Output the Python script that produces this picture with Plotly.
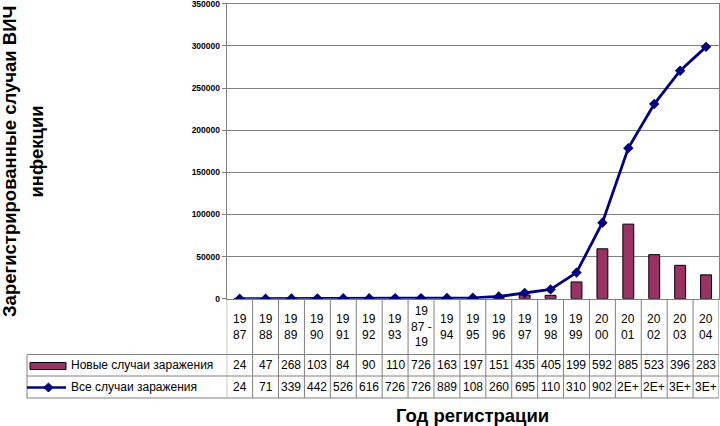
import plotly.graph_objects as go

W, H = 720, 426

categories = ["1987", "1988", "1989", "1990", "1991", "1992", "1993", "1987-1993",
              "1994", "1995", "1996", "1997", "1998", "1999", "2000", "2001",
              "2002", "2003", "2004"]
tick_labels = ["19<br>87", "19<br>88", "19<br>89", "19<br>90", "19<br>91", "19<br>92",
               "19<br>93", "19<br>87 -<br>19", "19<br>94", "19<br>95", "19<br>96",
               "19<br>97", "19<br>98", "19<br>99", "20<br>00", "20<br>01", "20<br>02",
               "20<br>03", "20<br>04"]
new_cases = [24, 47, 268, 103, 84, 90, 110, 726, 163, 197, 1517, 4355, 4050,
             19900, 59200, 88500, 52300, 39600, 28300]
all_cases = [24, 71, 339, 442, 526, 616, 726, 726, 889, 1086, 2603, 6958, 11008,
             31000, 90200, 178700, 231000, 270600, 298900]
y_ticks = [0, 50000, 100000, 150000, 200000, 250000, 300000, 350000]
series_names = ["Новые случаи заражения", "Все случаи заражения"]
y_title_lines = ["Зарегистрированные случаи ВИЧ", "инфекции"]
x_title = "Год регистрации"

BAR_COLOR = "#993366"
LINE_COLOR = "#000080"
GRID = "#808080"
FONT = "Arial, Liberation Sans, sans-serif"


def px(x):
    return x / W


def py(y):
    return 1 - y / H


def cell_text(v):
    # Excel data-table cells are too narrow: text is clipped to 3 characters
    s = str(v) if v < 100000 else "%.0E" % v
    return s[:3]


X0, X1 = 226.7, 719.0
Y0, Y1 = 298.7, 3.8

fig = go.Figure()
fig.add_trace(go.Bar(
    x=categories, y=new_cases, name=series_names[0],
    marker=dict(color=BAR_COLOR, line=dict(color="black", width=1)),
))
fig.add_trace(go.Scatter(
    x=categories, y=all_cases, name=series_names[1], mode="lines+markers",
    line=dict(color=LINE_COLOR, width=2.8),
    marker=dict(symbol="diamond", size=8, color=LINE_COLOR),
))

shapes = []
annotations = []
n = len(categories)

# table geometry
T_TOP, T_MID, T_BOT = 354.5, 376.0, 398.0
T_LEFT = 27.0
for i in range(n + 1):
    shapes.append(dict(type="line", xref="x", yref="paper", x0=i - 0.5, x1=i - 0.5,
                       y0=py(Y0), y1=py(T_BOT), line=dict(color=GRID, width=1)))
for yy in (T_TOP, T_MID, T_BOT):
    shapes.append(dict(type="line", xref="paper", yref="paper", x0=px(T_LEFT), x1=px(X1),
                       y0=py(yy), y1=py(yy), line=dict(color=GRID, width=1)))
shapes.append(dict(type="line", xref="paper", yref="paper", x0=px(T_LEFT), x1=px(T_LEFT),
                   y0=py(T_TOP), y1=py(T_BOT), line=dict(color=GRID, width=1)))

# legend keys inside table
shapes.append(dict(type="rect", xref="paper", yref="paper", x0=px(30), x1=px(66),
                   y0=py(362.5), y1=py(369.5), fillcolor=BAR_COLOR,
                   line=dict(color="black", width=1)))
ky = 387.5
shapes.append(dict(type="line", xref="paper", yref="paper", x0=px(27), x1=px(66),
                   y0=py(ky), y1=py(ky), line=dict(color=LINE_COLOR, width=2.5)))
d = 4.5
cx = 48.5
path = "M %f %f L %f %f L %f %f L %f %f Z" % (px(cx - d), py(ky), px(cx), py(ky - d),
                                              px(cx + d), py(ky), px(cx), py(ky + d))
shapes.append(dict(type="path", xref="paper", yref="paper", path=path,
                   fillcolor=LINE_COLOR, line=dict(color=LINE_COLOR, width=1)))

annotations.append(dict(xref="paper", yref="paper", x=px(69), y=py((T_TOP + T_MID) / 2),
                        text=series_names[0], showarrow=False, xanchor="left",
                        yanchor="middle", font=dict(family=FONT, size=12, color="black")))
annotations.append(dict(xref="paper", yref="paper", x=px(69), y=py((T_MID + T_BOT) / 2),
                        text=series_names[1], showarrow=False, xanchor="left",
                        yanchor="middle", font=dict(family=FONT, size=12, color="black")))

for i, (lab, a, b) in enumerate(zip(tick_labels, new_cases, all_cases)):
    annotations.append(dict(xref="x", yref="paper", x=i, y=py(326.5), text=lab,
                            showarrow=False, xanchor="center", yanchor="middle",
                            font=dict(family=FONT, size=12, color="black")))
    annotations.append(dict(xref="x", yref="paper", x=i, y=py((T_TOP + T_MID) / 2),
                            text=cell_text(a), showarrow=False, xanchor="center",
                            yanchor="middle", font=dict(family=FONT, size=12, color="black")))
    annotations.append(dict(xref="x", yref="paper", x=i, y=py((T_MID + T_BOT) / 2),
                            text=cell_text(b), showarrow=False, xanchor="center",
                            yanchor="middle", font=dict(family=FONT, size=12, color="black")))

# axis titles
TF = dict(family=FONT, size=18.5, color="black", weight="bold")
annotations.append(dict(xref="paper", yref="paper", x=px(10), y=py(162), text=y_title_lines[0],
                        textangle=-90, showarrow=False, xanchor="center", yanchor="middle",
                        font=TF))
annotations.append(dict(xref="paper", yref="paper", x=px(35.5), y=py(152), text=y_title_lines[1],
                        textangle=-90, showarrow=False, xanchor="center", yanchor="middle",
                        font=TF))
annotations.append(dict(xref="paper", yref="paper", x=px(472), y=py(415), text=x_title,
                        showarrow=False, xanchor="center", yanchor="middle", font=TF))

fig.update_layout(
    width=W, height=H,
    margin=dict(l=0, r=0, t=0, b=0, autoexpand=False),
    paper_bgcolor="white", plot_bgcolor="white",
    showlegend=False,
    bargap=0.58,
    xaxis=dict(domain=[px(X0), px(X1)], type="category", categoryorder="array",
               categoryarray=categories, range=[-0.5, n - 0.5], showticklabels=False,
               ticks="", showgrid=False, showline=True, linecolor=GRID, linewidth=1,
               mirror=True, zeroline=False, fixedrange=True),
    yaxis=dict(domain=[py(Y0), py(Y1)], range=[0, 350000], tickmode="array",
               tickvals=y_ticks, ticktext=[str(v) for v in y_ticks],
               showgrid=True, gridcolor=GRID, gridwidth=1, showline=True, linecolor=GRID,
               linewidth=1, mirror=True, ticks="outside", ticklen=4, tickcolor=GRID,
               zeroline=False, ticklabeloverflow="allow",
               tickfont=dict(family=FONT, size=8.5, color="black", weight="bold")),
    shapes=shapes,
    annotations=annotations,
)

fig.write_html("out.html")
